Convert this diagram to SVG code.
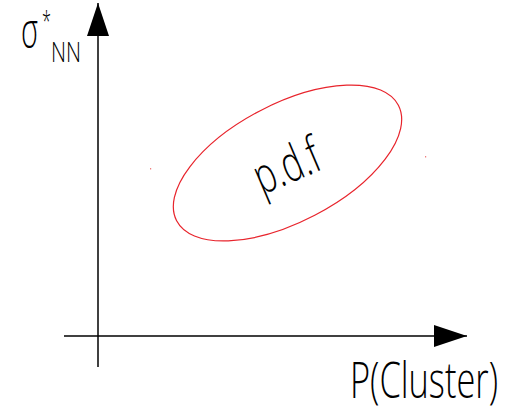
<svg xmlns="http://www.w3.org/2000/svg" width="520" height="410" viewBox="0 0 520 410">
<style>
.axis{stroke:#000;stroke-width:1.5;fill:none}
.lbl{font-family:"Open Sans","Liberation Sans",sans-serif;font-weight:300;fill:#000}
.dot{fill:#f08080}
</style>
<defs>
<marker id="arr" markerUnits="userSpaceOnUse" markerWidth="34" markerHeight="23" refX="33" refY="11" orient="auto" viewBox="0 0 34 23">
<path d="M0,0 L33,11 L0,22 z" fill="#000"/>
</marker>
</defs>
<rect width="520" height="410" fill="#fff"/>
<g id="connectors">
<line class="axis" x1="98" y1="367" x2="98" y2="3" marker-end="url(#arr)"/>
<line class="axis" x1="64" y1="336" x2="467" y2="336" marker-end="url(#arr)"/>
</g>
<g id="pdf">
<ellipse cx="287.5" cy="163" rx="125" ry="59" transform="rotate(-27.5 287.5 163)" fill="none" stroke="#e8242c" stroke-width="1.2"/>
<text class="lbl" x="0" y="0" font-size="50" transform="translate(262 195) rotate(-23)" textLength="68" lengthAdjust="spacingAndGlyphs">p.d.f</text>
</g>
<rect class="dot" x="150" y="168" width="1.2" height="1.5"/>
<rect class="dot" x="425" y="156" width="1.2" height="1.5"/>
<g id="ylabel">
<text class="lbl" x="21" y="48" font-size="50" textLength="17" lengthAdjust="spacingAndGlyphs">σ</text>
<text class="lbl" x="42" y="31" font-size="28" textLength="9" lengthAdjust="spacingAndGlyphs">*</text>
<text class="lbl" x="51" y="62" font-size="27" textLength="30" lengthAdjust="spacingAndGlyphs">NN</text>
</g>
<g id="xlabel">
<text class="lbl" x="350" y="398" font-size="50" textLength="148" lengthAdjust="spacingAndGlyphs">P(Cluster)</text>
</g>
</svg>
